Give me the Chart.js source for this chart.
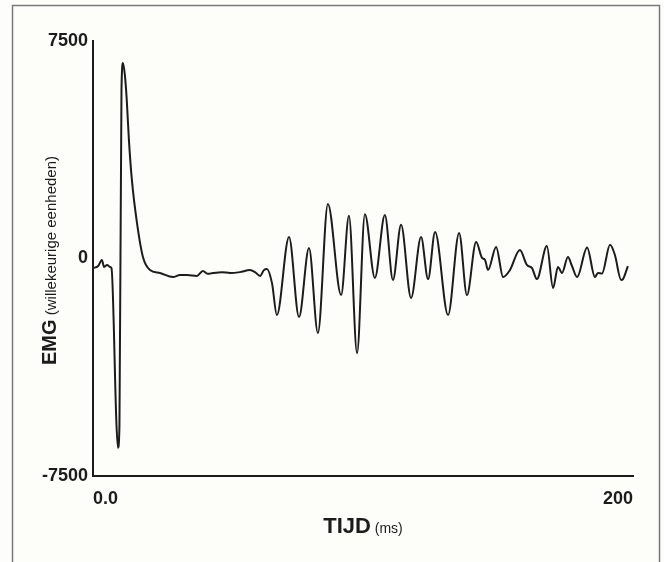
<!DOCTYPE html>
<html>
<head>
<meta charset="utf-8">
<title>EMG</title>
<script src="https://cdn.jsdelivr.net/npm/chart.js@4/dist/chart.umd.min.js"></script>
<style>
    html, body { margin: 0; padding: 0; background: #fdfdfa; }
    #wrap { position: relative; width: 664px; height: 562px; }
</style>
</head>
<body>
<div id="wrap"><canvas id="emg-chart"></canvas></div>
<script>
// Time axis (ms) and EMG signal (arbitrary units)
var timeMs = [
    0.0, 1.9, 3.3, 4.1, 5.2, 6.3, 6.85, 8.7, 9.26, 9.8,
    10.55, 11.1, 11.8, 12.5, 13.3, 14.4, 16.3, 18.5, 21.1, 24.8,
    29.6, 32.2, 34.8, 38.5, 40.7, 42.6, 44.4, 47.8, 50.7, 54.4,
    58.1, 60.0, 61.9, 63.3, 64.4, 66.3, 68.1, 72.6, 76.3, 80.0,
    83.3, 87.0, 91.9, 94.8, 97.8, 100.7, 104.4, 108.1, 111.1, 114.1,
    117.8, 121.5, 124.1, 126.7, 131.5, 135.6, 138.5, 141.9, 144.1, 145.2,
    146.3, 149.3, 151.9, 154.4, 158.1, 160.7, 162.6, 164.4, 168.1, 170.4,
    172.2, 173.7, 175.9, 177.4, 179.3, 183.0, 185.9, 187.0, 188.5, 191.5,
    193.3, 195.6, 196.3, 198.1
];
var emgValues = [
    -330, -260, -50, -290, -220, -290, -330, -5740, -6530, -5740,
    5810, 6740, 6330, 5470, 4090, 2710, 1220, 50, -400, -500,
    -640, -570, -570, -600, -430, -530, -500, -470, -500, -470,
    -400, -470, -600, -400, -360, -850, -1950, 740, -2020, 360,
    -2570, 1880, -1260, 1470, -3260, 1530, -670, 1500, -740, 1160,
    -1360, 740, -710, 910, -1950, 880, -1260, 570, 20, -50,
    -400, 400, -640, -400, 290, -220, -330, -710, 430, -1020,
    -290, -500, 50, -260, -640, 380, -640, -500, -520, 470,
    120, -740, -710, -260
];
var xTicks = [0, 200];
var yTicks = [-7500, 0, 7500];

var ink = '#1c1c1c';

var points = timeMs.map(function(t, i) {
    return { x: t, y: emgValues[i] };
});

// Frame around the figure and the mixed-size axis titles
var figureDecor = {
    id: 'figureDecor',
    beforeDraw: function(chart) {
        var ctx = chart.ctx;
        ctx.save();
        ctx.fillStyle = '#fdfdfa';
        ctx.fillRect(0, 0, chart.width, chart.height);
        ctx.strokeStyle = '#7a7a7a';
        ctx.lineWidth = 1.5;
        ctx.strokeRect(12.5, 5.5, 647, 600);
        ctx.restore();
    },
    afterDraw: function(chart) {
        var ctx = chart.ctx;
        var area = chart.chartArea;
        ctx.save();
        ctx.fillStyle = ink;
        ctx.textBaseline = 'alphabetic';

        // x title
        var big = 'bold 22px "Liberation Sans", Arial, sans-serif';
        var small = '14px "Liberation Sans", Arial, sans-serif';
        ctx.font = big;
        var w1 = ctx.measureText('TIJD').width;
        ctx.font = small;
        var w2 = ctx.measureText(' (ms)').width;
        var cx = (area.left + area.right) / 2;
        var x0 = cx - (w1 + w2) / 2;
        ctx.font = big;
        ctx.fillText('TIJD', x0, 533);
        ctx.font = small;
        ctx.fillText(' (ms)', x0 + w1, 533);

        // y title, rotated
        var big2 = 'bold 20px "Liberation Sans", Arial, sans-serif';
        var small2 = '15px "Liberation Sans", Arial, sans-serif';
        ctx.font = big2;
        var v1 = ctx.measureText('EMG').width;
        ctx.font = small2;
        var v2 = ctx.measureText(' (willekeurige eenheden)').width;
        ctx.translate(56, (area.top + area.bottom) / 2 + 2);
        ctx.rotate(-Math.PI / 2);
        var s0 = -(v1 + v2) / 2;
        ctx.font = big2;
        ctx.fillText('EMG', s0, 0);
        ctx.font = small2;
        ctx.fillText(' (willekeurige eenheden)', s0 + v1, 0);
        ctx.restore();
    }
};

new Chart(document.getElementById('emg-chart').getContext('2d'), {
    type: 'line',
    data: {
        datasets: [{
            data: points,
            borderColor: ink,
            borderWidth: 2,
            pointRadius: 0,
            fill: false,
            cubicInterpolationMode: 'monotone'
        }]
    },
    options: {
        responsive: true,
        maintainAspectRatio: false,
        animation: false,
        layout: {
            padding: { left: 0, right: 31, top: 41, bottom: 0 }
        },
        plugins: {
            legend: { display: false },
            tooltip: { enabled: false }
        },
        scales: {
            x: {
                type: 'linear',
                min: 0,
                max: 200,
                afterBuildTicks: function(scale) {
                    scale.ticks = xTicks.map(function(v) { return { value: v }; });
                },
                afterFit: function(scale) { scale.height = 86; },
                grid: { display: false, drawTicks: false },
                border: { display: true, color: ink, width: 2 },
                ticks: {
                    align: 'inner',
                    padding: 12,
                    color: ink,
                    font: { family: '"Liberation Sans", Arial, sans-serif', size: 18, weight: 'bold' },
                    callback: function(v) { return v === 0 ? '0.0' : String(v); }
                }
            },
            y: {
                min: -7500,
                max: 7500,
                afterBuildTicks: function(scale) {
                    scale.ticks = yTicks.map(function(v) { return { value: v }; });
                },
                afterFit: function(scale) { scale.width = 93; },
                grid: { display: false, drawTicks: false },
                border: { display: true, color: ink, width: 2 },
                ticks: {
                    padding: 5,
                    color: ink,
                    font: { family: '"Liberation Sans", Arial, sans-serif', size: 18, weight: 'bold' },
                    callback: function(v) { return String(v); }
                }
            }
        }
    },
    plugins: [figureDecor]
});
</script>
</body>
</html>
